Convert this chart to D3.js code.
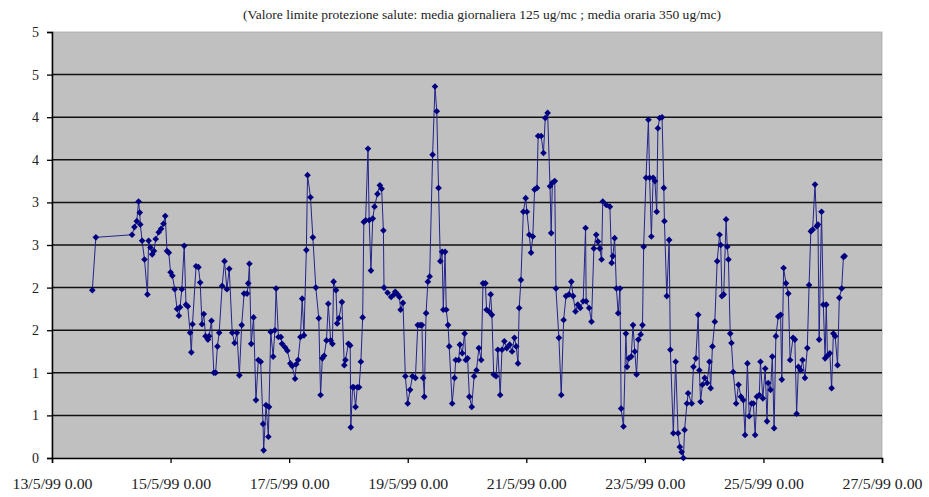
<!DOCTYPE html>
<html>
<head>
<meta charset="utf-8">
<script src="https://cdn.jsdelivr.net/npm/d3@7"></script>
<style>
  body { margin: 0; background: #fff; }
</style>
</head>
<body>
<svg id="chart" width="929" height="497" font-family="'Liberation Serif', 'Times New Roman', 'DejaVu Serif', serif"></svg>
<script>
"use strict";

// chart title (subtitle line of the original report figure)
const title = "(Valore limite protezione salute: media giornaliera 125 ug/mc ; media oraria 350 ug/mc)";

// y axis: gridline values and the labels printed next to them
const yTicks = [0, 0.5, 1, 1.5, 2, 2.5, 3, 3.5, 4, 4.5, 5];
const yTickLabels = ["0", "1", "1", "2", "2", "3", "3", "4", "4", "5", "5"];

// x axis: tick days of May 1999
const xTickDays = [13, 15, 17, 19, 21, 23, 25, 27];

// readings: [day of May 1999 (with fraction of day), value]
const may13to16 = [
  [13.68, 1.97], [13.74, 2.59], [14.35, 2.62], [14.39, 2.71], [14.43, 2.78], [14.46, 3.01], [14.48, 2.88],
  [14.49, 2.74], [14.52, 2.55], [14.56, 2.33], [14.61, 1.92], [14.63, 2.55], [14.66, 2.47], [14.69, 2.39],
  [14.72, 2.43], [14.75, 2.57], [14.80, 2.65], [14.84, 2.69], [14.88, 2.75], [14.91, 2.84], [14.94, 2.43],
  [14.97, 2.41], [15.00, 2.18], [15.03, 2.14], [15.07, 1.98], [15.11, 1.75], [15.14, 1.67], [15.16, 1.77],
  [15.19, 1.98], [15.23, 2.49], [15.26, 1.80], [15.29, 1.78], [15.33, 1.47], [15.35, 1.24], [15.37, 1.57],
  [15.43, 2.25], [15.47, 2.24], [15.50, 2.06], [15.53, 1.57], [15.56, 1.69], [15.59, 1.43], [15.63, 1.39],
  [15.65, 1.43], [15.69, 1.61], [15.73, 1.00], [15.76, 1.00], [15.79, 1.31], [15.82, 1.47], [15.87, 2.02],
  [15.91, 2.31], [15.95, 1.98], [15.99, 2.22], [16.04, 1.47], [16.08, 1.35], [16.12, 1.47]
];
const may16to19 = [
  [16.16, 0.97], [16.20, 1.56], [16.24, 1.93], [16.29, 1.93], [16.31, 2.05], [16.33, 2.28], [16.36, 1.34],
  [16.40, 1.65], [16.44, 0.68], [16.48, 1.15], [16.52, 1.13], [16.56, 0.40], [16.57, 0.09], [16.61, 0.62],
  [16.65, 0.25], [16.66, 0.60], [16.69, 1.48], [16.73, 1.19], [16.76, 1.50], [16.78, 1.99], [16.82, 1.42],
  [16.86, 1.42], [16.88, 1.34], [16.93, 1.30], [16.97, 1.26], [17.02, 1.11], [17.05, 1.08], [17.10, 0.93],
  [17.12, 1.10], [17.15, 1.15], [17.19, 1.42], [17.22, 1.87], [17.25, 1.44], [17.29, 2.44], [17.31, 3.32],
  [17.36, 3.06], [17.40, 2.59], [17.45, 2.00], [17.50, 1.64], [17.53, 0.74], [17.56, 1.17], [17.59, 1.20],
  [17.63, 1.38], [17.66, 1.81], [17.70, 1.38], [17.73, 1.34], [17.75, 2.07], [17.79, 1.97], [17.81, 1.58],
  [17.84, 1.64], [17.89, 1.83], [17.93, 1.09], [17.95, 1.15], [18.00, 1.34], [18.03, 1.32], [18.04, 0.36],
  [18.07, 0.83], [18.09, 0.83], [18.12, 0.60], [18.15, 0.83], [18.18, 0.83], [18.21, 1.13], [18.24, 1.65],
  [18.26, 2.77], [18.29, 2.79], [18.33, 3.63], [18.35, 2.79], [18.38, 2.20], [18.41, 2.81], [18.44, 2.95],
  [18.49, 3.10], [18.53, 3.20], [18.56, 3.16], [18.59, 2.67], [18.60, 2.00], [18.66, 1.94], [18.72, 1.89],
  [18.77, 1.92], [18.79, 1.95], [18.83, 1.92], [18.86, 1.89], [18.88, 1.74], [18.92, 1.82], [18.96, 0.96]
];
const may19to22 = [
  [19.00, 0.64], [19.04, 0.80], [19.08, 0.96], [19.13, 0.94], [19.17, 1.56], [19.21, 1.56], [19.24, 1.56],
  [19.26, 0.94], [19.28, 0.72], [19.31, 1.70], [19.34, 2.07], [19.37, 2.13], [19.42, 3.56], [19.46, 4.36],
  [19.49, 4.07], [19.52, 3.17], [19.55, 2.31], [19.58, 2.42], [19.60, 1.74], [19.63, 2.42], [19.65, 1.74],
  [19.68, 1.56], [19.70, 1.31], [19.75, 0.64], [19.79, 0.94], [19.81, 1.15], [19.86, 1.15], [19.88, 1.33],
  [19.92, 1.23], [19.96, 1.46], [19.98, 1.15], [20.01, 1.17], [20.04, 0.72], [20.08, 0.60], [20.12, 0.96],
  [20.16, 1.03], [20.20, 1.29], [20.24, 1.15], [20.27, 2.05], [20.31, 2.05], [20.33, 1.74], [20.37, 1.72],
  [20.40, 1.92], [20.42, 1.68], [20.45, 0.98], [20.49, 0.96], [20.52, 1.27], [20.56, 0.74], [20.59, 1.27],
  [20.63, 1.37], [20.67, 1.29], [20.72, 1.33], [20.76, 1.25], [20.80, 1.41], [20.83, 1.31], [20.86, 1.11],
  [20.88, 1.76], [20.91, 2.09], [20.95, 2.89], [20.99, 3.05], [21.01, 2.89], [21.05, 2.62], [21.08, 2.41],
  [21.11, 2.60], [21.14, 3.15], [21.18, 3.17], [21.20, 3.78], [21.25, 3.78], [21.29, 3.58], [21.32, 3.99],
  [21.36, 4.05], [21.40, 3.19], [21.42, 2.64], [21.44, 3.23], [21.48, 3.25], [21.50, 1.99], [21.55, 1.41],
  [21.59, 0.74], [21.63, 1.62], [21.67, 1.90], [21.72, 1.92], [21.76, 2.07], [21.79, 1.90], [21.83, 1.72],
  [21.87, 1.80], [21.91, 1.76], [21.96, 1.84]
];
const may22to24 = [
  [22.00, 2.70], [22.01, 1.84], [22.06, 1.76], [22.10, 1.60], [22.14, 2.46], [22.18, 2.62], [22.21, 2.54],
  [22.24, 2.46], [22.27, 2.33], [22.29, 3.01], [22.35, 2.97], [22.41, 2.95], [22.44, 2.29], [22.46, 2.37],
  [22.49, 2.58], [22.52, 1.99], [22.55, 1.70], [22.58, 1.99], [22.60, 0.58], [22.64, 0.37], [22.68, 1.46],
  [22.70, 1.07], [22.73, 1.17], [22.77, 1.19], [22.80, 1.56], [22.83, 1.25], [22.86, 0.98], [22.89, 1.39],
  [22.93, 1.45], [22.96, 1.56], [22.98, 2.48], [23.02, 3.29], [23.06, 3.97], [23.08, 3.29], [23.11, 2.60],
  [23.14, 3.29], [23.17, 3.25], [23.20, 2.89], [23.22, 3.87], [23.25, 3.99], [23.29, 4.00], [23.32, 3.17],
  [23.33, 2.78], [23.37, 1.90], [23.41, 2.56], [23.43, 1.27], [23.48, 0.29], [23.52, 1.13], [23.56, 0.29],
  [23.59, 0.13], [23.62, 0.07], [23.65, 0.00], [23.67, 0.33], [23.71, 0.64], [23.73, 0.76], [23.79, 0.64],
  [23.82, 1.07], [23.86, 1.17], [23.90, 1.68], [23.92, 1.03], [23.94, 0.66], [23.97, 0.86]
];
const may24to26 = [
  [24.01, 0.94], [24.05, 0.88], [24.09, 1.13], [24.11, 0.82], [24.14, 1.31], [24.18, 1.60], [24.22, 2.31],
  [24.26, 2.62], [24.28, 2.50], [24.30, 1.90], [24.33, 1.92], [24.37, 2.80], [24.39, 2.48], [24.41, 2.33],
  [24.44, 1.46], [24.46, 1.35], [24.49, 1.01], [24.54, 0.64], [24.58, 0.86], [24.62, 0.72], [24.66, 0.68],
  [24.69, 0.27], [24.73, 1.11], [24.76, 0.49], [24.80, 0.64], [24.83, 0.64], [24.86, 0.27], [24.89, 0.72],
  [24.93, 0.74], [24.95, 1.13], [24.99, 0.70], [25.03, 1.05], [25.06, 0.43], [25.08, 0.88], [25.12, 0.80],
  [25.15, 1.19], [25.18, 0.35], [25.21, 1.43], [25.25, 1.66], [25.29, 1.68], [25.31, 0.92], [25.34, 2.23],
  [25.38, 2.05], [25.42, 1.93], [25.45, 1.15], [25.50, 1.41], [25.53, 1.39], [25.56, 0.52], [25.59, 1.07],
  [25.63, 1.03], [25.66, 1.15], [25.70, 0.94], [25.74, 1.29], [25.77, 2.03], [25.80, 2.66], [25.83, 2.68],
  [25.87, 3.21], [25.90, 2.72], [25.92, 2.74], [25.94, 1.39], [25.98, 2.89], [26.01, 1.80], [26.04, 1.17],
  [26.06, 1.80], [26.08, 1.20], [26.12, 1.23], [26.15, 0.82], [26.18, 1.46], [26.21, 1.43], [26.25, 1.09],
  [26.28, 1.88], [26.32, 1.99], [26.35, 2.36], [26.37, 2.37]
];

// day-of-May number -> Date
const dayMs = 24 * 3600 * 1000;
const toDate = day => new Date(new Date(1999, 4, 1).getTime() + (day - 1) * dayMs);

const readings = [].concat(may13to16, may16to19, may19to22, may22to24, may24to26)
  .map(([day, value]) => ({ date: toDate(day), value }));

// chart area
const svg = d3.select("#chart");
const plot = { left: 52, right: 882, top: 32, bottom: 458 };
const serif = "'Liberation Serif', 'Times New Roman', 'DejaVu Serif', serif";

const xScale = d3.scaleTime()
  .domain([toDate(13), toDate(27)])
  .range([plot.left, plot.right]);

const yScale = d3.scaleLinear()
  .domain([0, 5])
  .range([plot.bottom, plot.top]);

// grey plot background
svg.append("rect")
  .attr("x", plot.left)
  .attr("y", plot.top)
  .attr("width", plot.right - plot.left)
  .attr("height", plot.bottom - plot.top)
  .attr("fill", "#c0c0c0")
  .attr("stroke", "#a8a8a8")
  .attr("stroke-width", 0.8);

// black horizontal gridlines
svg.append("g")
  .selectAll("line")
  .data(yTicks.filter(v => v > 0 && v < 5))
  .enter()
  .append("line")
  .attr("x1", plot.left)
  .attr("x2", plot.right)
  .attr("y1", d => yScale(d))
  .attr("y2", d => yScale(d))
  .attr("stroke", "#111")
  .attr("stroke-width", 1.5);

// y axis
const yAxis = svg.append("g")
  .attr("transform", `translate(${plot.left},0)`)
  .call(d3.axisLeft(yScale)
    .tickValues(yTicks)
    .tickSize(5)
    .tickPadding(8)
    .tickFormat((d, i) => yTickLabels[i]));

// x axis
const xFormat = d3.timeFormat("%-d/%-m/%y %-H.%M");
const xAxis = svg.append("g")
  .attr("transform", `translate(0,${plot.bottom})`)
  .call(d3.axisBottom(xScale)
    .tickValues(xTickDays.map(toDate))
    .tickSize(5)
    .tickPadding(16)
    .tickFormat(xFormat));

[yAxis, xAxis].forEach(ax => {
  ax.attr("font-family", serif).attr("font-size", 14);
  ax.select(".domain").attr("stroke", "#000").attr("stroke-width", 1.5);
  ax.selectAll(".tick line").attr("stroke", "#000").attr("stroke-width", 1.3);
  ax.selectAll("text").attr("fill", "#222");
});

// the date labels in the original are set slightly wide
xAxis.selectAll(".tick text")
  .attr("textLength", 80)
  .attr("lengthAdjust", "spacingAndGlyphs");

// title
svg.append("text")
  .attr("x", 482)
  .attr("y", 19)
  .attr("text-anchor", "middle")
  .attr("font-family", serif)
  .attr("font-size", 12.5)
  .attr("fill", "#222")
  .attr("textLength", 478)
  .attr("lengthAdjust", "spacingAndGlyphs")
  .text(title);

// the series line
const line = d3.line()
  .x(d => xScale(d.date))
  .y(d => yScale(d.value));

svg.append("path")
  .datum(readings)
  .attr("fill", "none")
  .attr("stroke", "#23238a")
  .attr("stroke-width", 1)
  .attr("d", line);

// diamond markers
const diamond = d3.symbol().type(d3.symbolSquare).size(22);
svg.append("g")
  .selectAll("path")
  .data(readings)
  .enter()
  .append("path")
  .attr("d", diamond)
  .attr("transform", d => `translate(${xScale(d.date)},${yScale(d.value)}) rotate(45)`)
  .attr("fill", "#000080");
</script>
</body>
</html>
